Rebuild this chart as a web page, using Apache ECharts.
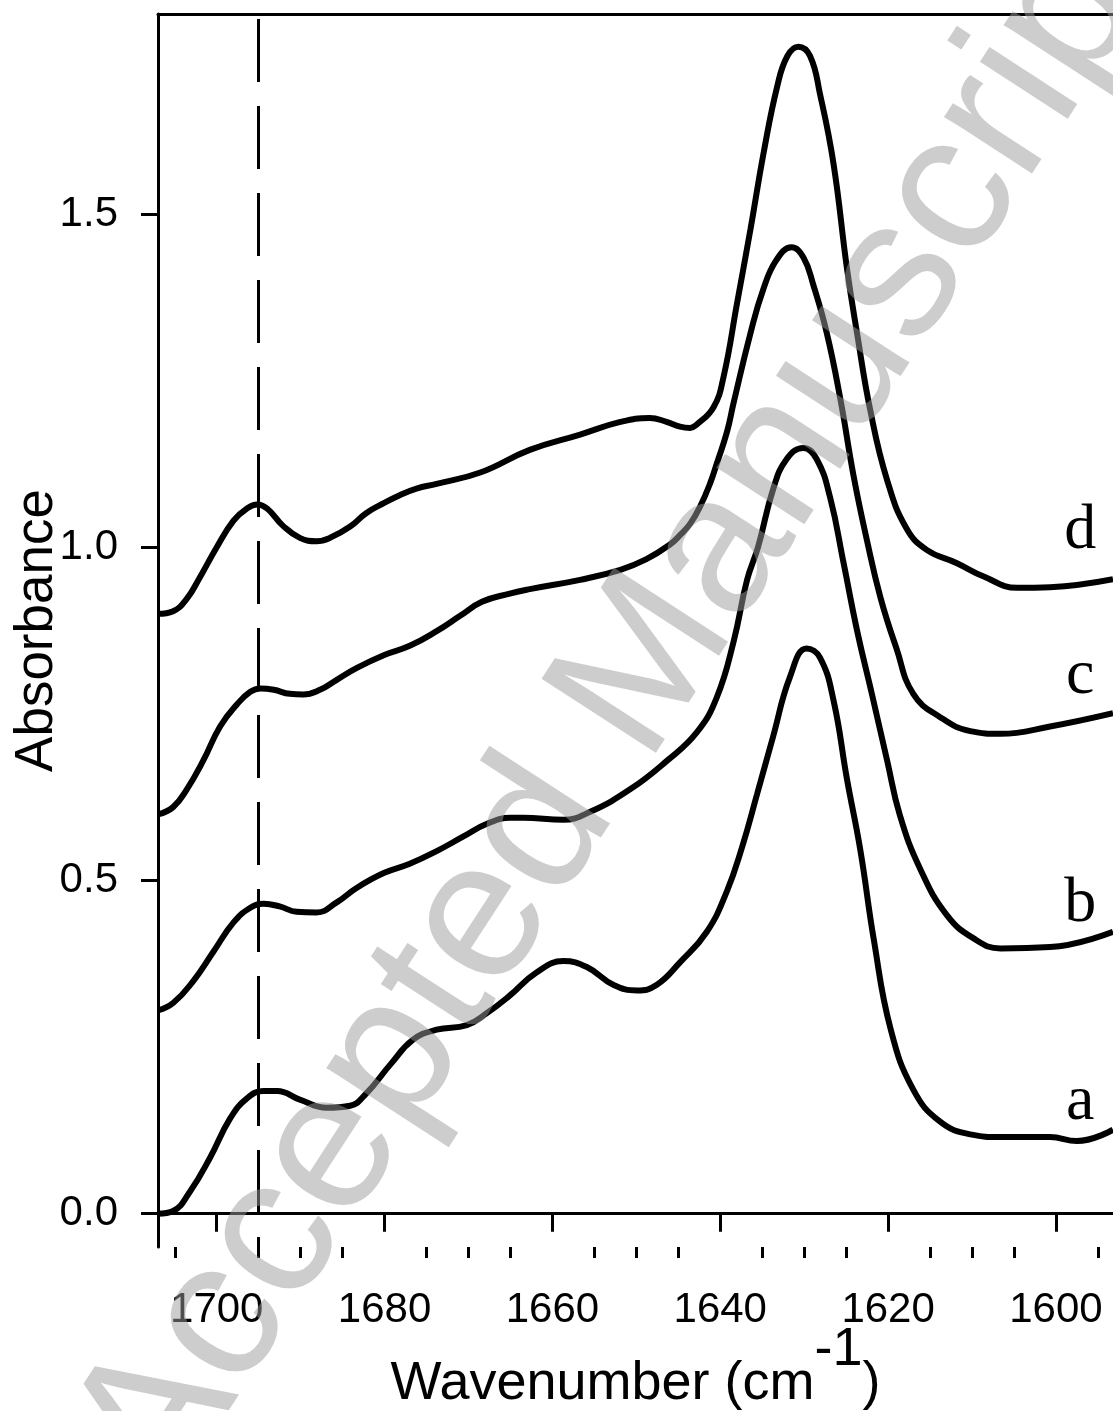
<!DOCTYPE html>
<html>
<head>
<meta charset="utf-8">
<script src="https://cdn.jsdelivr.net/npm/echarts@6/dist/echarts.min.js"></script>
<style>
html, body { margin: 0; padding: 0; background: #fff; }
#chart { width: 1113px; height: 1411px; }
</style>
</head>
<body>
<div id="chart"></div>
<script>
// spectra: [wavenumber, absorbance]
const curveA = [
    [1707, 0.0], [1705.2, 0.004], [1703.2, 0.033], [1700.8, 0.084], [1698.4, 0.143], [1696.4, 0.173],
    [1694.4, 0.184], [1692.8, 0.184], [1690.1, 0.171], [1686.9, 0.159], [1684.1, 0.162], [1682.2, 0.180],
    [1679.3, 0.224], [1676.6, 0.261], [1673.8, 0.276], [1670.2, 0.283], [1667.8, 0.301], [1665.2, 0.326],
    [1661.9, 0.362], [1658.7, 0.379], [1655.9, 0.370], [1652.7, 0.343], [1649.9, 0.335], [1647.6, 0.343],
    [1644.8, 0.377], [1641.6, 0.423], [1639.2, 0.484], [1637.4, 0.55], [1635.6, 0.63], [1633.7, 0.716],
    [1631.7, 0.805], [1629.7, 0.848], [1628.1, 0.834], [1626.5, 0.770], [1624.9, 0.652], [1623.3, 0.545],
    [1621.7, 0.411], [1619.7, 0.277], [1617.0, 0.186], [1613.8, 0.138], [1610.2, 0.119], [1606.6, 0.115],
    [1600.7, 0.115], [1597.5, 0.109], [1593.2, 0.126]
];
const curveB = [
    [1707, 0.305], [1705.2, 0.316], [1702.8, 0.349], [1700.4, 0.393], [1698, 0.437], [1696, 0.459],
    [1694.4, 0.465], [1692.5, 0.461], [1690.5, 0.453], [1688.1, 0.452], [1685.7, 0.467], [1683.3, 0.489],
    [1680.1, 0.511], [1677, 0.525], [1673.8, 0.544], [1670.6, 0.566], [1667.8, 0.585], [1665, 0.594],
    [1663.5, 0.594], [1658.7, 0.591], [1655.5, 0.603], [1650.7, 0.637], [1646.4, 0.679], [1642.8, 0.722],
    [1640.4, 0.775], [1638.4, 0.859], [1636.8, 0.951], [1635.5, 1.0], [1633.7, 1.087], [1632.1, 1.132],
    [1630.1, 1.149], [1628.5, 1.132], [1626.9, 1.074], [1625.3, 0.976], [1623.7, 0.875], [1621.9, 0.778],
    [1620.1, 0.679], [1618.6, 0.598], [1616.2, 0.518], [1613, 0.448], [1609.8, 0.413], [1606.6, 0.398],
    [1600.7, 0.400], [1593.2, 0.423]
];
const curveC = [
    [1707, 0.599], [1705.2, 0.610], [1703.6, 0.636], [1701.6, 0.680], [1699.6, 0.731], [1697.6, 0.764],
    [1696, 0.783], [1694.8, 0.788], [1693.2, 0.786], [1691.3, 0.780], [1689.7, 0.779], [1687.7, 0.786],
    [1685.7, 0.801], [1683.3, 0.819], [1680.1, 0.838], [1677, 0.852], [1673.8, 0.874], [1671, 0.897],
    [1668.4, 0.918], [1665.2, 0.930], [1662.7, 0.937], [1656.7, 0.951], [1651.9, 0.966], [1648.8, 0.982],
    [1646, 1.004], [1644.8, 1.018], [1643.6, 1.035], [1642.4, 1.061], [1641.2, 1.096], [1640.4, 1.126],
    [1639.2, 1.173], [1638.4, 1.217], [1636.4, 1.321], [1634.9, 1.386], [1633.3, 1.431], [1631.5, 1.450],
    [1630.1, 1.435], [1628.9, 1.393], [1627.3, 1.321], [1625.7, 1.223], [1624.1, 1.106], [1622.5, 1.009],
    [1620.9, 0.924], [1619.0, 0.848], [1617.0, 0.78], [1613.8, 0.745], [1610.2, 0.724], [1606.6, 0.72],
    [1600.7, 0.731], [1593.2, 0.751]
];
const curveD = [
    [1707, 0.900], [1705.2, 0.904], [1703.6, 0.922], [1702, 0.955], [1700, 1.000], [1698, 1.040],
    [1696.4, 1.058], [1695.2, 1.064], [1694, 1.058], [1692.1, 1.032], [1690.1, 1.014], [1688.1, 1.009],
    [1686.5, 1.014], [1684.1, 1.031], [1682.2, 1.051], [1680.1, 1.066], [1678.2, 1.078], [1676.2, 1.088],
    [1673.8, 1.095], [1668.6, 1.112], [1662.7, 1.146], [1656.7, 1.169], [1651.9, 1.188], [1648.4, 1.194],
    [1646.4, 1.188], [1644.8, 1.181], [1643.6, 1.179], [1642.8, 1.184], [1640.8, 1.21], [1639.6, 1.256],
    [1638, 1.366], [1636.4, 1.477], [1634.8, 1.594], [1633.2, 1.692], [1632, 1.737], [1630.7, 1.751],
    [1629.3, 1.737], [1628.1, 1.679], [1626.5, 1.575], [1624.9, 1.418], [1623.7, 1.321], [1622.1, 1.204],
    [1620.1, 1.100], [1617.8, 1.028], [1615.4, 0.996], [1611.8, 0.976], [1608.6, 0.956], [1604.6, 0.939],
    [1600.7, 0.940], [1593.2, 0.952]
];

const curveNames = ['a', 'b', 'c', 'd'];
const curveLabelAt = [[1597.1, 0.167], [1597.1, 0.465], [1597.1, 0.807], [1597.1, 1.024]];
const dashedAt = 1695;

const xTicks = [1700, 1680, 1660, 1640, 1620, 1600];
const xMinorTicks = [1705, 1695, 1690, 1685, 1675, 1670, 1665, 1655, 1650, 1645,
    1635, 1630, 1625, 1615, 1610, 1605, 1595];
const yTicks = [0, 0.5, 1.0, 1.5];

const xMin = 1593.2, xMax = 1707;
const yMin = -0.05, yMax = 1.8;

const sans = '"Liberation Sans", Arial, sans-serif';
const ink = '#000';

let chart = echarts.init(document.getElementById('chart'));

let series = [curveA, curveB, curveC, curveD].map((data, i) => ({
    type: 'line',
    data: data,
    smooth: 0.45,
    showSymbol: false,
    lineStyle: { color: ink, width: 6 },
    markPoint: {
        symbol: 'circle',
        symbolSize: 0,
        silent: true,
        label: {
            show: true,
            position: 'inside',
            formatter: curveNames[i],
            color: ink,
            fontFamily: '"Liberation Serif", "Times New Roman", serif',
            fontSize: 64
        },
        data: [{ coord: curveLabelAt[i] }]
    },
    markLine: i === 0 ? {
        silent: true,
        symbol: 'none',
        label: { show: false },
        lineStyle: { color: ink, width: 3, type: [63, 24], dashOffset: 53 },
        data: [{ xAxis: dashedAt }]
    } : undefined
}));

chart.setOption({
    animation: false,
    backgroundColor: '#fff',
    grid: { left: 158, top: 14, right: 0, bottom: 164, outerBoundsMode: 'none', containLabel: false },
    xAxis: [
        {
            type: 'value',
            inverse: true,
            min: xMin,
            max: xMax,
            position: 'bottom',
            name: '{n|Wavenumber (cm}{sup|-1}{n|)}',
            nameLocation: 'middle',
            nameGap: 76,
            nameMoveOverlap: false,
            nameTextStyle: {
                color: ink,
                fontFamily: sans,
                fontSize: 54,
                rich: {
                    n: { fontFamily: sans, fontSize: 54, color: ink, verticalAlign: 'bottom' },
                    sup: { fontFamily: sans, fontSize: 54, color: ink, verticalAlign: 'bottom', padding: [0, 0, 34, 0] }
                }
            },
            axisLine: { show: true, lineStyle: { color: ink, width: 3 } },
            axisTick: { show: true, inside: false, length: 18, lineStyle: { color: ink, width: 3 }, customValues: xTicks },
            axisLabel: {
                color: ink, fontFamily: sans, fontSize: 42, margin: 42,
                customValues: xTicks,
                formatter: v => String(v)
            },
            splitLine: { show: false }
        },
        {
            type: 'value',
            inverse: true,
            min: xMin,
            max: xMax,
            position: 'bottom',
            axisLine: { show: false },
            axisTick: { show: true, inside: false, length: 11, lineStyle: { color: ink, width: 3 }, customValues: xMinorTicks },
            axisLabel: { show: false },
            splitLine: { show: false }
        },
        {
            type: 'value',
            inverse: true,
            min: xMin,
            max: xMax,
            position: 'top',
            axisLine: { show: true, lineStyle: { color: ink, width: 3 } },
            axisTick: { show: false },
            axisLabel: { show: false },
            splitLine: { show: false }
        }
    ],
    yAxis: {
        type: 'value',
        min: yMin,
        max: yMax,
        name: 'Absorbance',
        nameLocation: 'middle',
        nameRotate: 90,
        nameGap: 94,
        nameMoveOverlap: false,
        nameTextStyle: { color: ink, fontFamily: sans, fontSize: 53 },
        axisLine: { show: true, lineStyle: { color: ink, width: 3 } },
        axisTick: { show: true, inside: false, length: 17, lineStyle: { color: ink, width: 3 }, customValues: yTicks },
        axisLabel: {
            color: ink, fontFamily: sans, fontSize: 42, margin: 40,
            customValues: yTicks,
            formatter: v => v.toFixed(1)
        },
        splitLine: { show: false }
    },
    series: series,
    graphic: [{
        type: 'text',
        x: 625,
        y: 700,
        rotation: 57 * Math.PI / 180,
        silent: true,
        z: 100,
        style: {
            text: 'Accepted Manuscript',
            fontFamily: sans,
            fontSize: 198,
            fill: 'rgba(156,156,156,0.5)',
            align: 'center',
            verticalAlign: 'middle'
        }
    }]
});
</script>
</body>
</html>
